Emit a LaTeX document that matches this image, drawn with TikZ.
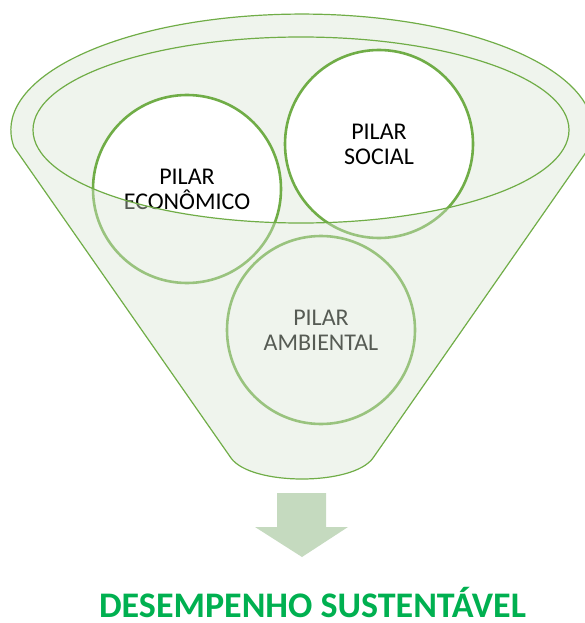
\documentclass[tikz,border=0pt]{standalone}
\usepackage{fontspec}
\setmainfont{Carlito}
\usepackage{tikz}
\usetikzlibrary{positioning}
\definecolor{pilargreen}{RGB}{112, 173, 71}
\definecolor{funnelbg}{RGB}{239, 244, 237}
\definecolor{funnelveil}{RGB}{215, 228, 210}
\definecolor{arrowgreen}{RGB}{197, 218, 191}
\definecolor{titlegreen}{RGB}{0, 176, 80}

\begin{document}
\begin{tikzpicture}[x=1pt, y=-1pt,
    pilar/.style={circle, draw=pilargreen, line width=2.6pt, fill=white, minimum size=188pt,
      inner sep=0pt, align=center, font=\fontsize{24}{25}\selectfont},
    rim/.style={draw=pilargreen, line width=1.2pt}]
        \useasboundingbox (0,0) rectangle (584,623);
        % Opening of the funnel
        \fill[funnelbg] (301,130) ellipse[x radius=268, y radius=93];
        % the three pillars
        \node[pilar] (economico) at (187,189) {PILAR\\ECONÔMICO};
        \node[pilar] (social) at (379,144) {PILAR\\SOCIAL};
        \node[pilar] (ambiental) at (321,330) {PILAR\\AMBIENTAL};
        % Funnel body, see-through, lying over the pillars
        \fill[funnelveil, fill opacity=0.4, even odd rule]
          (231,458) -- (14,147) arc[start angle=171.6, end angle=368.4, x radius=291, y radius=116]
          -- (373,458) .. controls (353,486) and (251,486) .. cycle
          (301,130) ellipse[x radius=268, y radius=93];
        % outlines
        \draw[rim] (231,458) -- (14,147) arc[start angle=171.6, end angle=368.4, x radius=291, y radius=116]
          -- (373,458) .. controls (353,486) and (251,486) .. cycle;
        \draw[rim] (301,130) ellipse[x radius=268, y radius=93];
        % Arrow down
        \fill[arrowgreen] (277,493) -- (326,493) -- (326,527) -- (348,527) -- (302,557)
          -- (255,527) -- (277,527) -- cycle;
        \node[anchor=base, inner sep=0pt, text=titlegreen, font=\fontsize{36}{40}\selectfont\bfseries] (desempenho)
          at (312.5,617) {DESEMPENHO SUSTENTÁVEL};
      \end{tikzpicture}
\end{document}
